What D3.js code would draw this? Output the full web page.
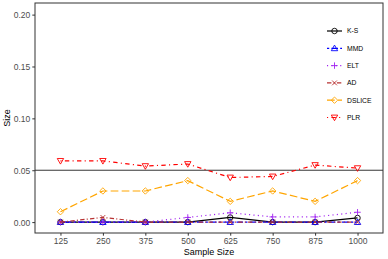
<!DOCTYPE html>
<html>
<head>
<meta charset="utf-8">
<script src="https://cdn.jsdelivr.net/npm/d3@7"></script>
<style>
  body { margin: 0; background: #fff; }
  text { font-family: "Liberation Sans", Arial, sans-serif; }
</style>
</head>
<body>
<div class="chart"></div>
<script>
const width = 388;
const height = 259;

const sizes = ["125", "250", "375", "500", "625", "750", "875", "1000"];
const yTicks = [0, 0.05, 0.10, 0.15, 0.20];

const ks     = [0, 0, 0, 0, 0.0045, 0, 0, 0.004];
const mmd    = [0, 0, 0, 0, 0, 0, 0, 0];
const elt    = [0, 0, 0, 0.0045, 0.009, 0.005, 0.005, 0.0095];
const ad     = [0, 0.0045, 0, 0, 0, 0, 0, 0];
const dslice = [0.01, 0.03, 0.03, 0.04, 0.02, 0.03, 0.02, 0.04];
const plr    = [0.059, 0.059, 0.054, 0.056, 0.043, 0.044, 0.055, 0.052];

const series = [
  { name: "K-S",    values: ks,     color: "#000000", dash: null,        shape: "circle" },
  { name: "MMD",    values: mmd,    color: "#0000ff", dash: "2.2,2.2,6.6,2.2", shape: "triangle" },
  { name: "ELT",    values: elt,    color: "#a020f0", dash: "1.1,3.3",    shape: "plus" },
  { name: "AD",     values: ad,     color: "#b83232", dash: "4.4,2.2,1.1,2.2", shape: "cross" },
  { name: "DSLICE", values: dslice, color: "#ffa500", dash: "7.7,3.3",    shape: "diamond" },
  { name: "PLR",    values: plr,    color: "#ff0000", dash: "1.1,3.3,4.4,3.3", shape: "triDown" }
];

const margin = { top: 3, right: 5, bottom: 26, left: 35 };

const svg = d3.select(".chart").append("svg")
  .attr("width", width).attr("height", height);

const x = d3.scaleLinear()
  .domain([0.4, sizes.length + 0.6])
  .range([margin.left, width - margin.right]);

const y = d3.scaleLinear()
  .domain([-0.0105, 0.2112])
  .range([height - margin.bottom, margin.top]);

// reference line
svg.append("line")
  .attr("x1", margin.left).attr("x2", width - margin.right)
  .attr("y1", y(0.05)).attr("y2", y(0.05))
  .attr("stroke", "#000").attr("stroke-width", 0.8);

function symbol(g, shape, color) {
  const s = 3.2;
  if (shape === "circle") {
    g.append("circle").attr("r", s * 0.85).attr("fill", "none").attr("stroke", color).attr("stroke-width", 0.9);
  } else if (shape === "triangle") {
    g.append("path").attr("d", `M0,${-s}L${s},${s * 0.75}L${-s},${s * 0.75}Z`)
      .attr("fill", "none").attr("stroke", color).attr("stroke-width", 0.9);
  } else if (shape === "triDown") {
    g.append("path").attr("d", `M0,${s}L${s},${-s * 0.75}L${-s},${-s * 0.75}Z`)
      .attr("fill", "none").attr("stroke", color).attr("stroke-width", 0.9);
  } else if (shape === "diamond") {
    g.append("path").attr("d", `M0,${-s}L${s},0L0,${s}L${-s},0Z`)
      .attr("fill", "none").attr("stroke", color).attr("stroke-width", 0.9);
  } else if (shape === "plus") {
    g.append("path").attr("d", `M${-s},0H${s}M0,${-s}V${s}`)
      .attr("fill", "none").attr("stroke", color).attr("stroke-width", 0.9);
  } else if (shape === "cross") {
    const c = s * 0.75;
    g.append("path").attr("d", `M${-c},${-c}L${c},${c}M${-c},${c}L${c},${-c}`)
      .attr("fill", "none").attr("stroke", color).attr("stroke-width", 0.9);
  }
}

const line = d3.line()
  .x((d, i) => x(i + 1))
  .y(d => y(d));

const plot = svg.append("g");

series.forEach(s => {
  plot.append("path")
    .datum(s.values)
    .attr("fill", "none")
    .attr("stroke", s.color)
    .attr("stroke-width", 1.2)
    .attr("stroke-dasharray", s.dash)
    .attr("d", line);
  s.values.forEach((v, i) => {
    const g = plot.append("g").attr("transform", `translate(${x(i + 1)},${y(v)})`);
    symbol(g, s.shape, s.color);
  });
});

// panel border
svg.append("rect")
  .attr("x", margin.left).attr("y", margin.top)
  .attr("width", width - margin.left - margin.right)
  .attr("height", height - margin.top - margin.bottom)
  .attr("fill", "none").attr("stroke", "#333").attr("stroke-width", 1);

// axes
const xAxis = svg.append("g")
  .attr("transform", `translate(0,${height - margin.bottom})`)
  .call(d3.axisBottom(x).tickValues(d3.range(1, sizes.length + 1))
    .tickFormat(i => sizes[i - 1]).tickSize(2.7).tickPadding(2));
const yAxis = svg.append("g")
  .attr("transform", `translate(${margin.left},0)`)
  .call(d3.axisLeft(y).tickValues(yTicks).tickFormat(d3.format(".2f"))
    .tickSize(2.7).tickPadding(2));

[xAxis, yAxis].forEach(a => {
  a.select(".domain").remove();
  a.selectAll(".tick line").attr("stroke", "#333");
  a.selectAll(".tick text").attr("fill", "#4d4d4d").style("font-size", "8.5px");
});
yAxis.selectAll(".tick text").attr("dy", "0.35em");

svg.append("text")
  .attr("x", (margin.left + width - margin.right) / 2)
  .attr("y", height - 4)
  .attr("text-anchor", "middle")
  .style("font-size", "9px")
  .text("Sample Size");

svg.append("text")
  .attr("transform", `translate(10,${(margin.top + height - margin.bottom) / 2}) rotate(-90)`)
  .attr("text-anchor", "middle")
  .style("font-size", "9px")
  .text("Size");

// legend
const legend = svg.append("g").attr("transform", "translate(327,31)");
series.forEach((s, i) => {
  const g = legend.append("g").attr("transform", `translate(0,${i * 17.3})`);
  g.append("line").attr("x1", 0).attr("x2", 15)
    .attr("stroke", s.color).attr("stroke-width", 1.2)
    .attr("stroke-dasharray", s.dash);
  const m = g.append("g").attr("transform", "translate(7.5,0)");
  symbol(m, s.shape, s.color);
  g.append("text").attr("x", 20).attr("dy", "0.35em")
    .style("font-size", "6.8px").attr("fill", "#000")
    .text(s.name);
});
</script>
</body>
</html>
